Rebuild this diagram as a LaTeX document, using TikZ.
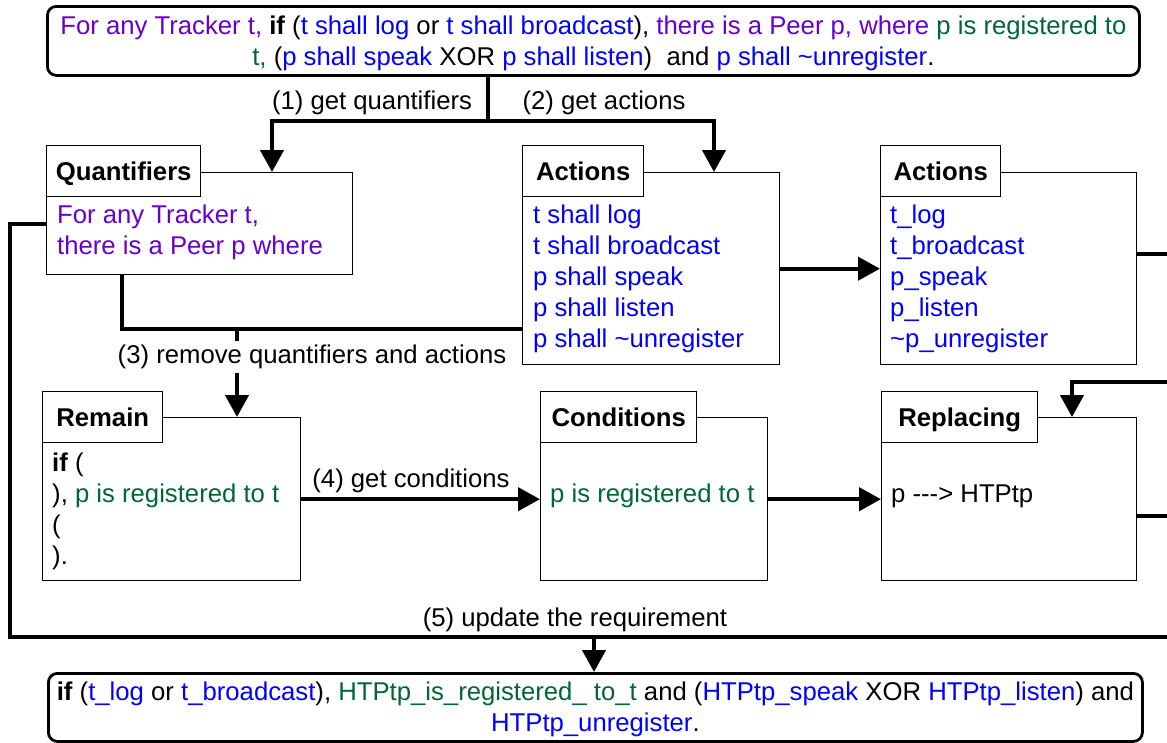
\documentclass[tikz,border=0pt]{standalone}
\usepackage{fontspec}
\setmainfont{Liberation Sans}
\usetikzlibrary{arrows.meta}
\definecolor{qpurple}{HTML}{6600CC}
\definecolor{cgreen}{HTML}{006633}
\definecolor{ablue}{HTML}{0000FF}
\newcommand\pu[1]{\textcolor{qpurple}{#1}}
\newcommand\gr[1]{\textcolor{cgreen}{#1}}
\newcommand\bl[1]{\textcolor{ablue}{#1}}
\newcommand\tl{\textasciitilde}
\newcommand\tallstrut{\rule{0pt}{27pt}}
\begin{document}
\begin{tikzpicture}[x=1pt,y=-1pt,
  every node/.style={font=\fontsize{25.7}{31}\selectfont},
  req/.style={draw, line width=2.8pt, rounded corners=9pt, inner sep=0pt, align=center, anchor=north west},
  body/.style={draw, line width=1.4pt, inner sep=0pt, anchor=north west},
  tab/.style={draw, line width=1.4pt, fill=white, inner sep=0pt, anchor=north west, minimum height=51pt, text height=18pt, text depth=0pt, font=\fontsize{25.7}{31}\selectfont\bfseries},
  txt/.style={anchor=north west, inner sep=0pt, align=left},
  conn/.style={line width=4.3pt},
  arr/.style={conn, -{Triangle[length=22pt,width=23pt]}},
  lbl/.style={fill=white, inner xsep=1pt, inner ysep=4pt}
]
\useasboundingbox (0,0) rectangle (1167,742);

% requirement
\node[req, minimum width=1092pt, minimum height=69pt] (top) at (46,5)
 {\tallstrut\pu{For any Tracker t,} \textbf{if} (\bl{t shall log} or \bl{t shall broadcast}), \pu{there is a Peer p, where} \gr{p is registered to}\\
  \strut\gr{t,} (\bl{p shall speak} XOR \bl{p shall listen})\ \ and \bl{p shall \tl unregister}.};

% Quantifiers
\node[body, minimum width=306pt, minimum height=102pt] (qb) at (46,172) {};
\node[tab, minimum width=154pt] (qt) at (46,145) {Quantifiers};
\node[txt] (qx) at (57,201.3) {\strut\pu{For any Tracker t,}\\\strut\pu{there is a Peer p where}};

% Actions 1
\node[body, minimum width=257pt, minimum height=192pt] (ab) at (522,172) {};
\node[tab, minimum width=121pt] (at) at (522,145) {Actions};
\node[txt] (ax) at (533,201.3) {\strut\bl{t shall log}\\\strut\bl{t shall broadcast}\\\strut\bl{p shall speak}\\\strut\bl{p shall listen}\\\strut\bl{p shall \tl unregister}};

% Actions 2
\node[body, minimum width=256pt, minimum height=192pt] (a2b) at (880,172) {};
\node[tab, minimum width=120pt] (a2t) at (880,145) {Actions};
\node[txt] (a2x) at (890,201.3) {\strut\bl{t\_log}\\\strut\bl{t\_broadcast}\\\strut\bl{p\_speak}\\\strut\bl{p\_listen}\\\strut\bl{\tl p\_unregister}};

% Remain
\node[body, minimum width=258pt, minimum height=163pt] (rb) at (42,417) {};
\node[tab, minimum width=120pt] (rt) at (42,391) {Remain};
\node[txt] (rx) at (52,449.3) {\strut\textbf{if} (\\\strut), \gr{p is registered to t}\\\strut(\\\strut).};

% Conditions
\node[body, minimum width=227pt, minimum height=163pt] (cb) at (540,417) {};
\node[tab, minimum width=156pt] (ct) at (540,391) {Conditions};
\node[txt] (cx) at (550,480.3) {\strut\gr{p is registered to t}};

% Replacing
\node[body, minimum width=255pt, minimum height=163pt] (pb) at (881,417) {};
\node[tab, minimum width=156pt] (pt) at (881,391) {Replacing};
\node[txt] (px) at (891,480.3) {\strut p \mbox{-}\mbox{-}\mbox{-}\mbox{>} HTPtp};

% result
\node[req, minimum width=1094pt, minimum height=68pt] (bot) at (47,672)
 {\tallstrut\textbf{if} (\bl{t\_log} or \bl{t\_broadcast}), \gr{HTPtp\_is\_registered\_ to\_t} and (\bl{HTPtp\_speak} XOR \bl{HTPtp\_listen}) and\\
  \strut\bl{HTPtp\_unregister}.};

% coordinates
\coordinate (j1) at (488,121);
\coordinate (m3) at (237,329);
\coordinate (eA) at (1168,254);
\coordinate (eB) at (1168,382);
\coordinate (eC) at (1168,516);
\coordinate (lp) at (10,637);
\coordinate (eD) at (1168,637);
\coordinate (j5) at (594,637);

% connectors
\draw[conn] (j1 |- top.south) -- (j1);
\draw[arr] (j1) -| ([xshift=226pt]qb.north west);
\draw[arr] (j1) -| ([xshift=192pt]ab.north west);
\draw[arr] (ab.east) -- (a2b.west);
\draw[conn] (eA -| a2b.east) -- (eA);
\draw[conn] ([xshift=76pt]qb.south west) |- (m3 -| ab.west);
\draw[arr] (m3) -- (m3 |- rb.north);
\draw[arr] (rb.east) -- (cb.west);
\draw[arr] (cb.east) -- (pb.west);
\draw[arr] (eB) -| ([xshift=191pt]pb.north west);
\draw[conn] (eC -| pb.east) -- (eC);
\draw[conn] (qb.west) -| (lp) -- (eD);
\draw[arr] (j5) -- (j5 |- bot.north);

% labels
\node (l1) at (372,102.5) {(1) get quantifiers};
\node (l2) at (604,102.5) {(2) get actions};
\node[lbl] (l3) at (312,357) {(3) remove quantifiers and actions};
\node (l4) at (411,480.5) {(4) get conditions};
\node (l5) at (575,619.5) {(5) update the requirement};
\end{tikzpicture}
\end{document}
